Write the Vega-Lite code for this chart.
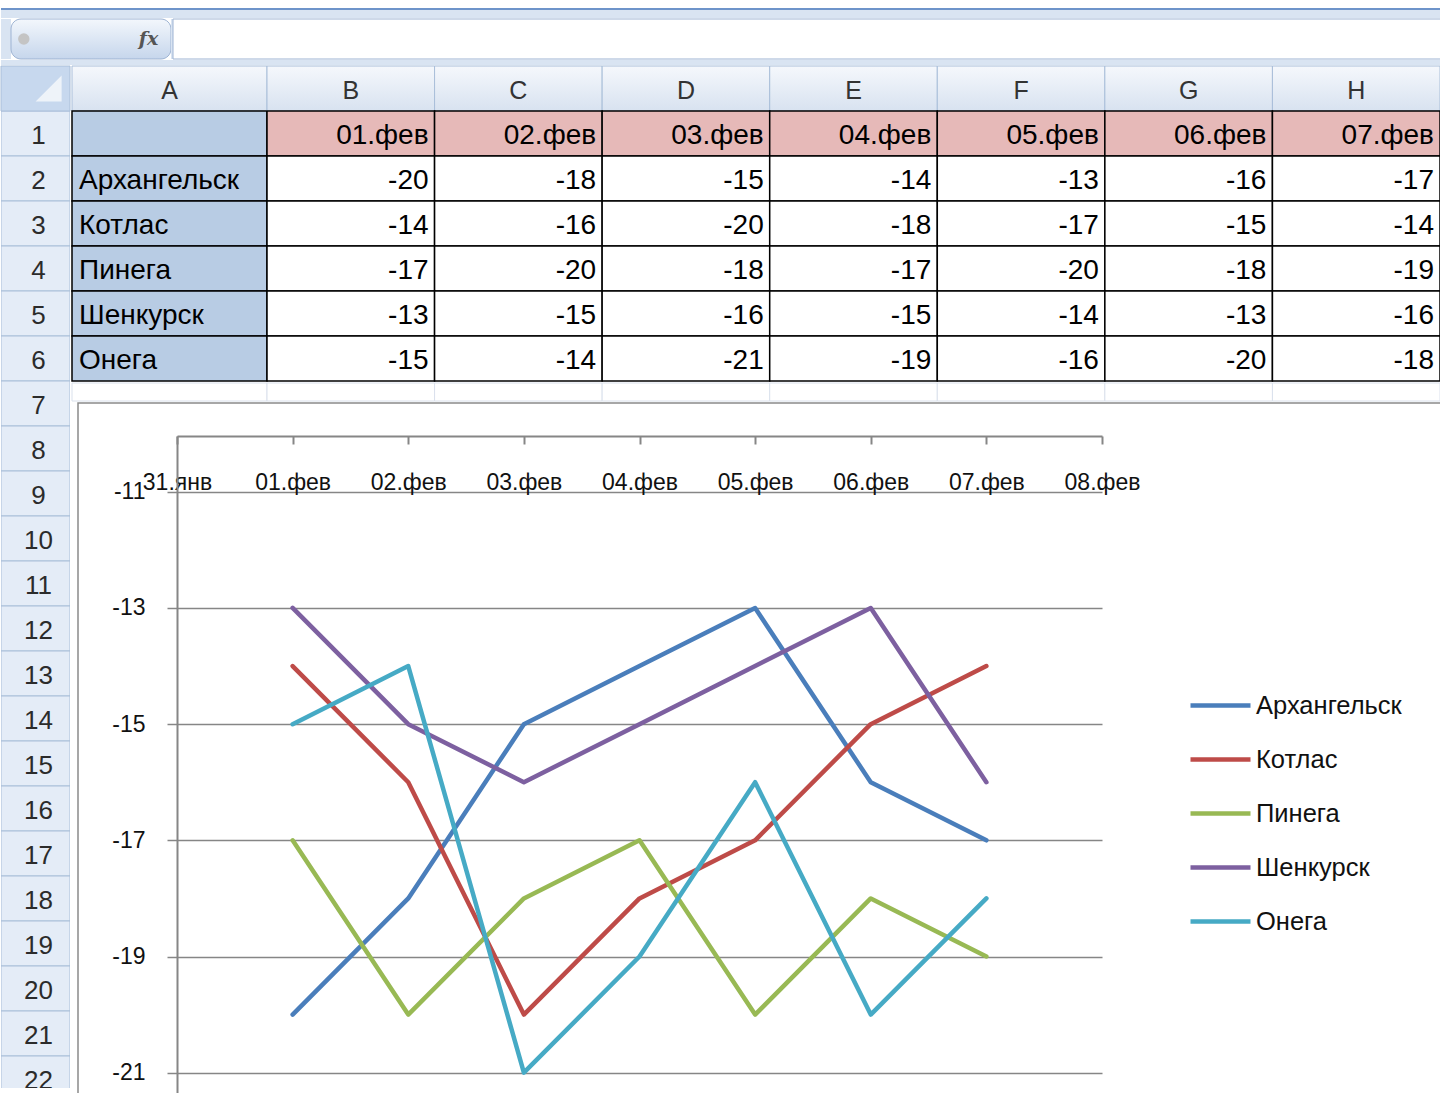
{
  "$schema": "https://vega.github.io/schema/vega-lite/v6.json",
  "padding": 0,
  "background": "#FFFFFF",
  "config": {
    "view": {"stroke": null},
    "concat": {"spacing": 0},
    "locale": {"number": {"decimal": ".", "thousands": ",", "grouping": [3], "currency": ["", ""], "minus": "-"}},
    "text": {"font": "Liberation Sans"},
    "axis": {"labelFont": "Liberation Sans"},
    "legend": {"labelFont": "Liberation Sans"}
  },
  "datasets": {
    "temps": [
      {"city": "Архангельск", "date": "01.фев", "t": -20}, {"city": "Архангельск", "date": "02.фев", "t": -18}, {"city": "Архангельск", "date": "03.фев", "t": -15}, {"city": "Архангельск", "date": "04.фев", "t": -14}, {"city": "Архангельск", "date": "05.фев", "t": -13}, {"city": "Архангельск", "date": "06.фев", "t": -16}, {"city": "Архангельск", "date": "07.фев", "t": -17},
      {"city": "Котлас", "date": "01.фев", "t": -14}, {"city": "Котлас", "date": "02.фев", "t": -16}, {"city": "Котлас", "date": "03.фев", "t": -20}, {"city": "Котлас", "date": "04.фев", "t": -18}, {"city": "Котлас", "date": "05.фев", "t": -17}, {"city": "Котлас", "date": "06.фев", "t": -15}, {"city": "Котлас", "date": "07.фев", "t": -14},
      {"city": "Пинега", "date": "01.фев", "t": -17}, {"city": "Пинега", "date": "02.фев", "t": -20}, {"city": "Пинега", "date": "03.фев", "t": -18}, {"city": "Пинега", "date": "04.фев", "t": -17}, {"city": "Пинега", "date": "05.фев", "t": -20}, {"city": "Пинега", "date": "06.фев", "t": -18}, {"city": "Пинега", "date": "07.фев", "t": -19},
      {"city": "Шенкурск", "date": "01.фев", "t": -13}, {"city": "Шенкурск", "date": "02.фев", "t": -15}, {"city": "Шенкурск", "date": "03.фев", "t": -16}, {"city": "Шенкурск", "date": "04.фев", "t": -15}, {"city": "Шенкурск", "date": "05.фев", "t": -14}, {"city": "Шенкурск", "date": "06.фев", "t": -13}, {"city": "Шенкурск", "date": "07.фев", "t": -16},
      {"city": "Онега", "date": "01.фев", "t": -15}, {"city": "Онега", "date": "02.фев", "t": -14}, {"city": "Онега", "date": "03.фев", "t": -21}, {"city": "Онега", "date": "04.фев", "t": -19}, {"city": "Онега", "date": "05.фев", "t": -16}, {"city": "Онега", "date": "06.фев", "t": -20}, {"city": "Онега", "date": "07.фев", "t": -18}
    ],
    "cols": [
      {"date": "01.фев", "letter": "B"}, {"date": "02.фев", "letter": "C"}, {"date": "03.фев", "letter": "D"}, {"date": "04.фев", "letter": "E"}, {"date": "05.фев", "letter": "F"}, {"date": "06.фев", "letter": "G"}, {"date": "07.фев", "letter": "H"}
    ],
    "rows": [
      {"n": "1"}, {"n": "2"}, {"n": "3"}, {"n": "4"}, {"n": "5"}, {"n": "6"}, {"n": "7"}, {"n": "8"}, {"n": "9"}, {"n": "10"}, {"n": "11"},
      {"n": "12"}, {"n": "13"}, {"n": "14"}, {"n": "15"}, {"n": "16"}, {"n": "17"}, {"n": "18"}, {"n": "19"}, {"n": "20"}, {"n": "21"}, {"n": "22"}
    ]
  },
  "spacing": 0,
  "bounds": "full",
  "vconcat": [
    {"width": 1440, "height": 8, "data": {"values": [{}]}, "mark": {"type": "rect", "fill": "#FFFFFF"}, "encoding": {}},
    {"width": 1440, "height": 2, "data": {"values": [{}]}, "mark": {"type": "rect", "fill": "#6E94CA"}, "encoding": {}},
    {"width": 1440, "height": 8, "data": {"values": [{}]}, "mark": {"type": "rect", "fill": "#D9E4F2"}, "encoding": {}},
    {
      "spacing": 0,
      "bounds": "flush",
      "hconcat": [
        {"width": 10, "height": 40, "data": {"values": [{}]}, "mark": {"type": "rect", "fill": "#D9E4F2"}, "encoding": {}},
        {
          "width": 160,
          "height": 40,
          "data": {"values": [{"sym": "fx"}]},
          "layer": [
            {"mark": {"type": "rect", "cornerRadius": 10, "stroke": "#9DB3D3", "strokeWidth": 1, "fill": {"gradient": "linear", "x1": 0, "y1": 0, "x2": 0, "y2": 1, "stops": [{"offset": 0, "color": "#F3F7FC"}, {"offset": 1, "color": "#C6D6EC"}]}}, "encoding": {}},
            {"mark": {"type": "point", "shape": "circle", "size": 130, "filled": true, "opacity": 1, "fill": "#C4C4C4"},
             "encoding": {"x": {"datum": "box", "type": "nominal", "scale": {"type": "band", "domain": ["box"], "paddingInner": 0, "paddingOuter": 0}, "bandPosition": 0.08, "axis": null}}},
            {"mark": {"type": "text", "font": "DejaVu Serif", "fontStyle": "italic", "fontWeight": "bold", "fontSize": 19, "color": "#555555", "baseline": "middle"},
             "encoding": {"x": {"datum": "box", "type": "nominal", "bandPosition": 0.86}, "text": {"field": "sym"}}}
          ]
        },
        {"width": 2, "height": 40, "data": {"values": [{}]}, "mark": {"type": "rect", "fill": "#D9E4F2"}, "encoding": {}},
        {"width": 1268, "height": 40, "data": {"values": [{}]}, "mark": {"type": "rect", "fill": "#FFFFFF", "stroke": "#9DB3D3", "strokeWidth": 1}, "encoding": {}}
      ]
    },
    {"width": 1440, "height": 5, "data": {"values": [{}]}, "mark": {"type": "rect", "fill": "#D9E4F2"}, "encoding": {}},
    {
      "spacing": 0,
      "bounds": "full",
      "hconcat": [
        {
          "width": 69,
          "height": 1022,
          "layer": [
            {"data": {"name": "rows"}, "mark": {"type": "rect", "fill": "#E4ECF7", "stroke": "#A9BED9", "strokeWidth": 1, "clip": true},
             "encoding": {"y": {"field": "n", "type": "nominal", "scale": {"type": "band", "domain": ["hdr", "1", "2", "3", "4", "5", "6", "7", "8", "9", "10", "11", "12", "13", "14", "15", "16", "17", "18", "19", "20", "21", "22"], "range": [0, 1035], "paddingInner": 0, "paddingOuter": 0}, "axis": null}}},
            {"data": {"name": "rows"}, "mark": {"type": "text", "fontSize": 26, "color": "#2B2B2B", "baseline": "middle", "dx": 3, "dy": 2, "clip": true},
             "encoding": {"y": {"field": "n", "type": "nominal"}, "text": {"field": "n"}}},
            {"data": {"values": [{"cell": "corner"}]}, "mark": {"type": "rect", "fill": "#C7D8EE", "stroke": "#A9BED9", "strokeWidth": 1},
             "encoding": {"y": {"datum": "hdr", "type": "nominal"}}},
            {"data": {"values": [{"cell": "corner"}]}, "mark": {"type": "point", "shape": "M 1 -1 L 1 1 L -1 1 Z", "size": 676, "filled": true, "opacity": 1, "fill": "#EEF3F9"},
             "encoding": {"y": {"datum": "hdr", "type": "nominal"}, "x": {"datum": "c", "type": "nominal", "scale": {"type": "band", "domain": ["c"], "paddingInner": 0, "paddingOuter": 0}, "bandPosition": 0.69, "axis": null}}}
          ]
        },
        {
          "spacing": 0,
          "bounds": "full",
          "vconcat": [
            {
              "spacing": 0,
              "bounds": "flush",
              "hconcat": [
                {
                  "width": 195,
                  "height": 315,
                  "layer": [
                    {"data": {"values": [{"letter": "A"}]}, "mark": {"type": "rect", "stroke": "#A9BED9", "strokeWidth": 1, "fill": {"gradient": "linear", "x1": 0, "y1": 0, "x2": 0, "y2": 1, "stops": [{"offset": 0, "color": "#F5F8FC"}, {"offset": 1, "color": "#D8E2F0"}]}},
                     "encoding": {"y": {"datum": "hdr", "type": "nominal", "scale": {"type": "band", "domain": ["hdr", "d", "Архангельск", "Котлас", "Пинега", "Шенкурск", "Онега"], "paddingInner": 0, "paddingOuter": 0}, "axis": null}}},
                    {"data": {"values": [{"letter": "A"}]}, "mark": {"type": "text", "fontSize": 25, "color": "#333333", "baseline": "middle", "dy": 2},
                     "encoding": {"y": {"datum": "hdr", "type": "nominal"}, "text": {"field": "letter"}}},
                    {"data": {"values": [{"cell": "A1"}]}, "mark": {"type": "rect", "fill": "#B8CCE4", "stroke": "#000000", "strokeWidth": 1.5},
                     "encoding": {"y": {"datum": "d", "type": "nominal"}}},
                    {"data": {"name": "temps"}, "transform": [{"filter": {"field": "date", "equal": "01.фев"}}], "mark": {"type": "rect", "fill": "#B8CCE4", "stroke": "#000000", "strokeWidth": 1.5},
                     "encoding": {"y": {"field": "city", "type": "nominal"}}},
                    {"data": {"name": "temps"}, "transform": [{"filter": {"field": "date", "equal": "01.фев"}}], "mark": {"type": "text", "align": "left", "baseline": "middle", "fontSize": 28, "color": "#000000", "dx": 7, "dy": 2},
                     "encoding": {"x": {"datum": "A", "type": "nominal", "scale": {"type": "band", "domain": ["A"], "paddingInner": 0, "paddingOuter": 0}, "bandPosition": 0, "axis": null}, "y": {"field": "city", "type": "nominal"}, "text": {"field": "city"}}}
                  ]
                },
                {
                  "width": 1173,
                  "height": 315,
                  "layer": [
                    {"data": {"name": "cols"}, "mark": {"type": "rect", "stroke": "#A9BED9", "strokeWidth": 1, "fill": {"gradient": "linear", "x1": 0, "y1": 0, "x2": 0, "y2": 1, "stops": [{"offset": 0, "color": "#F5F8FC"}, {"offset": 1, "color": "#D8E2F0"}]}},
                     "encoding": {
                       "x": {"field": "date", "type": "nominal", "scale": {"type": "band", "domain": ["01.фев", "02.фев", "03.фев", "04.фев", "05.фев", "06.фев", "07.фев"], "paddingInner": 0, "paddingOuter": 0}, "axis": null},
                       "y": {"datum": "hdr", "type": "nominal", "scale": {"type": "band", "domain": ["hdr", "d", "Архангельск", "Котлас", "Пинега", "Шенкурск", "Онега"], "paddingInner": 0, "paddingOuter": 0}, "axis": null}}},
                    {"data": {"name": "cols"}, "mark": {"type": "text", "fontSize": 25, "color": "#333333", "baseline": "middle", "dy": 2},
                     "encoding": {"x": {"field": "date", "type": "nominal"}, "y": {"datum": "hdr", "type": "nominal"}, "text": {"field": "letter"}}},
                    {"data": {"name": "cols"}, "mark": {"type": "rect", "fill": "#E6B9B8", "stroke": "#000000", "strokeWidth": 1.5},
                     "encoding": {"x": {"field": "date", "type": "nominal"}, "y": {"datum": "d", "type": "nominal"}}},
                    {"data": {"name": "cols"}, "mark": {"type": "text", "fontSize": 28, "color": "#000000", "align": "right", "baseline": "middle", "dx": -6, "dy": 2},
                     "encoding": {"x": {"field": "date", "type": "nominal", "bandPosition": 1}, "y": {"datum": "d", "type": "nominal"}, "text": {"field": "date"}}},
                    {"data": {"name": "temps"}, "mark": {"type": "rect", "fill": "#FFFFFF", "stroke": "#000000", "strokeWidth": 1.5},
                     "encoding": {"x": {"field": "date", "type": "nominal"}, "y": {"field": "city", "type": "nominal"}}},
                    {"data": {"name": "temps"}, "mark": {"type": "text", "fontSize": 28, "color": "#000000", "align": "right", "baseline": "middle", "dx": -6, "dy": 2},
                     "encoding": {"x": {"field": "date", "type": "nominal", "bandPosition": 1}, "y": {"field": "city", "type": "nominal"}, "text": {"field": "t", "type": "nominal"}}}
                  ]
                }
              ]
            },
            {
              "spacing": 0,
              "bounds": "flush",
              "hconcat": [
                {"width": 195, "height": 18, "data": {"values": [{}]}, "mark": {"type": "rect", "fill": "#FFFFFF", "stroke": "#DAE1EC", "strokeWidth": 1}, "encoding": {}},
                {"width": 1173, "height": 18, "data": {"name": "cols"}, "mark": {"type": "rect", "fill": "#FFFFFF", "stroke": "#DAE1EC", "strokeWidth": 1},
                 "encoding": {"x": {"field": "date", "type": "nominal", "scale": {"type": "band", "paddingInner": 0, "paddingOuter": 0}, "axis": null}}}
              ]
            },
            {
              "spacing": 0,
              "bounds": "flush",
              "hconcat": [
                {"width": 6, "height": 695, "data": {"values": [{}]}, "mark": {"type": "rect", "fill": "#FFFFFF"}, "encoding": {}},
                {
                  "width": 1366,
                  "height": 695,
                  "view": {"stroke": "#8A8A8A", "strokeWidth": 1.5, "fill": "#FFFFFF"},
                  "data": {"name": "temps"},
                  "mark": {"type": "line", "strokeWidth": 4.5, "strokeJoin": "round", "strokeCap": "round"},
                  "encoding": {
                    "x": {
                      "field": "date", "type": "ordinal",
                      "scale": {"type": "point", "domain": ["31.янв", "01.фев", "02.фев", "03.фев", "04.фев", "05.фев", "06.фев", "07.фев", "08.фев"], "range": [99, 1024], "padding": 0},
                      "axis": {"orient": "top", "offset": -33, "title": null, "grid": false, "domainColor": "#868686", "domainWidth": 2, "tickColor": "#868686", "tickWidth": 2, "tickSize": -8, "labelPadding": -38, "labelBaseline": "middle", "labelAngle": 0, "labelFontSize": 23, "labelColor": "#111111"}
                    },
                    "y": {
                      "field": "t", "type": "quantitative",
                      "scale": {"domain": [-21.4355, -10.04], "range": [695, 33], "nice": false, "zero": false},
                      "axis": {"orient": "left", "offset": -99, "values": [-21, -19, -17, -15, -13, -11], "title": null, "grid": true, "gridColor": "#868686", "gridWidth": 1.5, "gridOpacity": 1, "domainColor": "#868686", "domainWidth": 2, "tickColor": "#868686", "tickWidth": 1.5, "tickSize": 10, "labelPadding": 22, "labelFontSize": 23, "labelColor": "#111111"}
                    },
                    "color": {
                      "field": "city", "type": "nominal",
                      "scale": {"domain": ["Архангельск", "Котлас", "Пинега", "Шенкурск", "Онега"], "range": ["#4A7EBB", "#BE4B48", "#98B954", "#7D60A0", "#46AAC5"]},
                      "legend": {"orient": "none", "legendX": 1187, "legendY": 673, "title": null, "padding": 0, "symbolType": "stroke", "symbolSize": 3600, "symbolStrokeWidth": 4.5, "labelFontSize": 25.5, "labelColor": "#111111", "rowPadding": 8, "labelOffset": 3}
                    }
                  }
                }
              ]
            }
          ]
        }
      ]
    }
  ]
}
